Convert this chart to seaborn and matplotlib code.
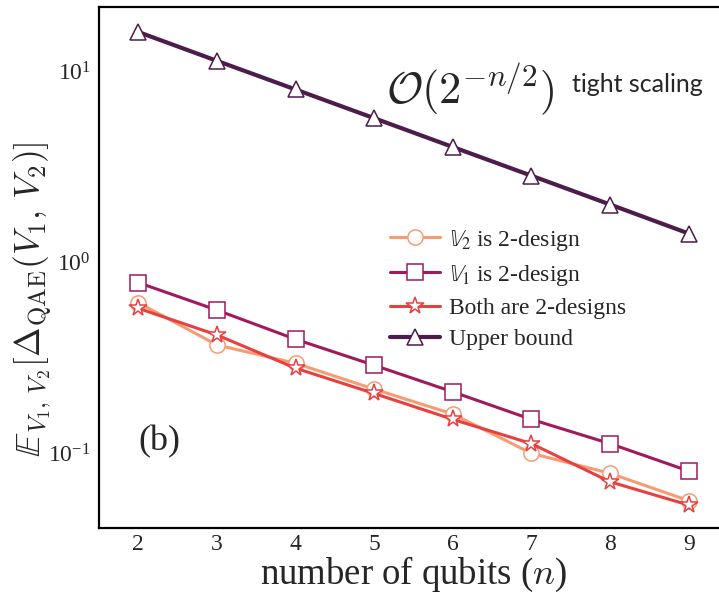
import numpy as np
import pandas as pd
import matplotlib
matplotlib.use("Agg")
import matplotlib.pyplot as plt
import seaborn as sns
from matplotlib.ticker import LogLocator, NullFormatter, FixedLocator

# ---- data ----
qubits = [2, 3, 4, 5, 6, 7, 8, 9]
v2_design = [0.612, 0.368, 0.295, 0.216, 0.160, 0.0996, 0.0783, 0.0563]
v1_design = [0.78, 0.56, 0.394, 0.288, 0.209, 0.150, 0.112, 0.0805]
both_design = [0.572, 0.415, 0.278, 0.205, 0.150, 0.112, 0.0707, 0.0534]
upper_bound = [16.0, 11.3, 8.0, 5.66, 4.0, 2.83, 2.0, 1.41]
series_labels = [r"$\mathbb{V}_2$ is 2-design", r"$\mathbb{V}_1$ is 2-design",
                 "Both are 2-designs", "Upper bound"]
xticks = [2, 3, 4, 5, 6, 7, 8, 9]

sns.set_style("white")
plt.rcParams["font.family"] = ["Liberation Serif", "DejaVu Serif"]
plt.rcParams["mathtext.fontset"] = "stix"

pal = sns.color_palette("rocket", 4)
c_upper, c_v1, c_both, c_v2 = pal[0], pal[1], pal[2], pal[3]

fig = plt.figure(figsize=(7.19, 5.94), dpi=100)
ax = fig.add_axes([0.1377, 0.1111, 0.8748, 0.8763])

specs = [
    (v2_design, series_labels[0], c_v2, "o", 11, 2.2),
    (v1_design, series_labels[1], c_v1, "s", 11, 2.2),
    (both_design, series_labels[2], c_both, "*", 13, 2.2),
    (upper_bound, series_labels[3], c_upper, "^", 12, 3.0),
]
for vals, lab, col, mk, ms, lw in specs:
    df = pd.DataFrame({"n": qubits, "val": vals})
    sns.lineplot(data=df, x="n", y="val", ax=ax, color=col, lw=lw, label=lab,
                 marker=mk, markersize=ms, markerfacecolor="white",
                 markeredgecolor=col, markeredgewidth=1.1)

ax.set_yscale("log")
ax.set_xlim(1.5, 9.5)
ax.set_ylim(0.0405, 21.5)
ax.xaxis.set_major_locator(FixedLocator(xticks))
ax.yaxis.set_major_locator(LogLocator(base=10, numticks=10))
ax.yaxis.set_minor_locator(LogLocator(base=10, subs=np.arange(2, 10), numticks=20))
ax.yaxis.set_minor_formatter(NullFormatter())

for s in ax.spines.values():
    s.set_linewidth(1.6)
    s.set_color("black")

ax.tick_params(axis="both", which="major", direction="in", length=8, width=1.1,
               color="#555555", labelsize=17, pad=6)
ax.tick_params(axis="x", which="major", pad=4)
ax.tick_params(axis="y", which="minor", direction="in", length=6, width=1.0,
               color="#555555")
ax.tick_params(axis="x", which="minor", length=0)

ax.set_xlabel(r"number of qubits ($n$)", fontsize=26.5, labelpad=0,
              math_fontfamily="cm")
ax.set_ylabel(r"$\mathbb{E}_{V_1,\,V_2}[\Delta_{\mathrm{QAE}}(V_1,\,V_2)]$",
              fontsize=25.5, math_fontfamily="cm")
ax.yaxis.set_label_coords(-0.072, 0.44)

ax.text(0.062, 0.165, "(b)", transform=ax.transAxes, fontsize=26,
        va="center", ha="left")
ax.text(0.456, 0.844, r"$\mathcal{O}(2^{-n/2})$", transform=ax.transAxes,
        fontsize=32, va="center", ha="left", math_fontfamily="cm")
ax.text(0.752, 0.852, "tight scaling", transform=ax.transAxes, fontsize=18,
        va="center", ha="left", family=["Lato", "DejaVu Sans"])

leg = ax.legend(loc="upper left", bbox_to_anchor=(0.4626, 0.577), frameon=False,
                fontsize=17, handlelength=2.1, handletextpad=0.4,
                labelspacing=0.42, borderaxespad=0, borderpad=0)

fig.savefig("out.png", dpi=100)
